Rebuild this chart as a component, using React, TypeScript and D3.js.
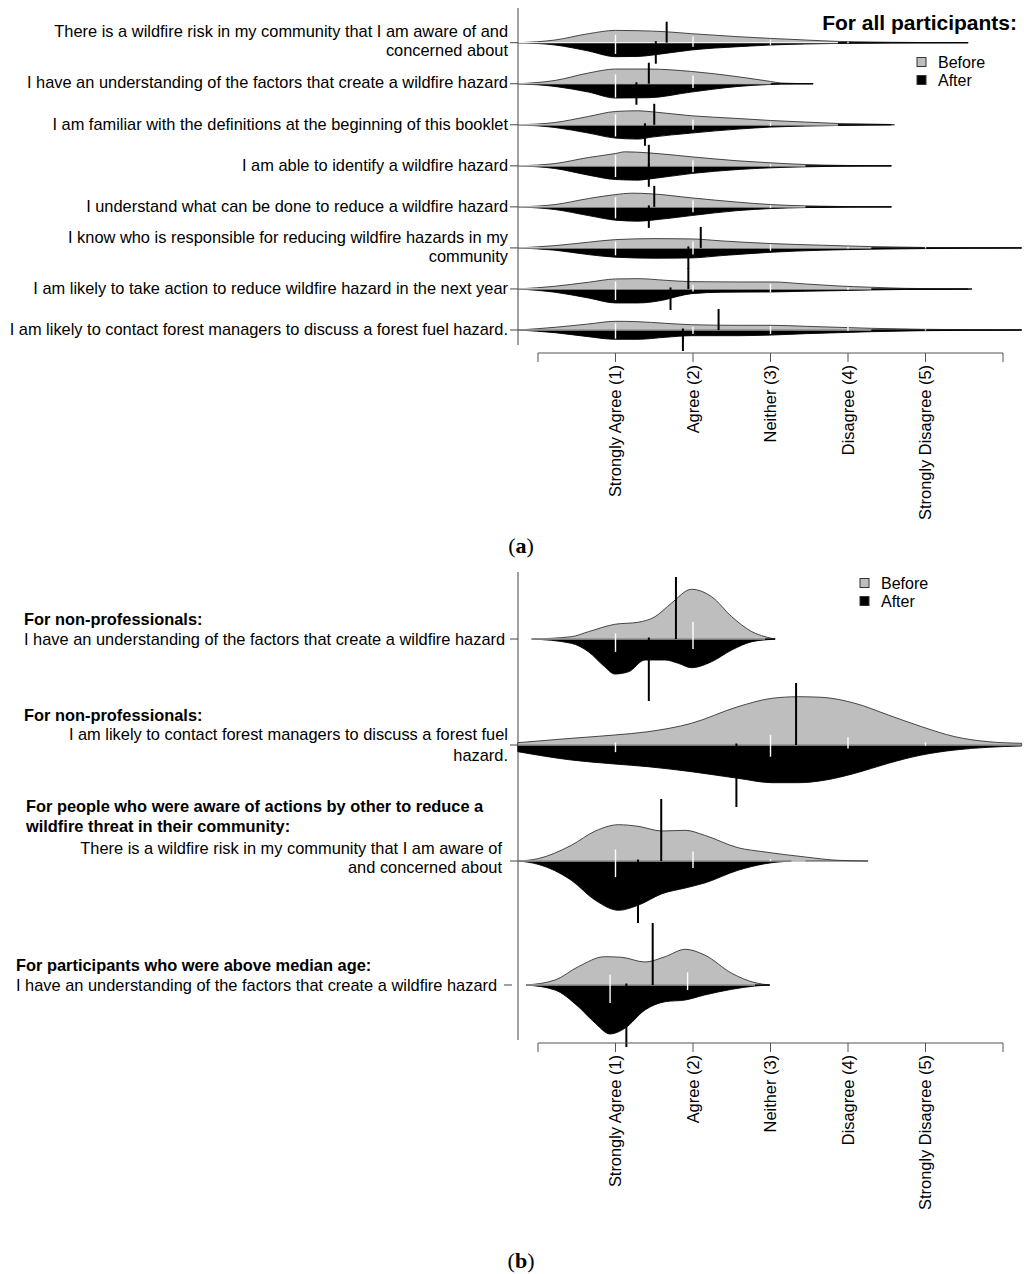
import React from "react";
import * as d3 from "d3";

type Pt = [number, number];

// ---------- Panel (a): all participants ----------
const A_LABELS: string[][] = [
  ["There is a wildfire risk in my community that I am aware of and", "concerned about"],
  ["I have an understanding of the factors that create a wildfire hazard"],
  ["I am familiar with the definitions at the beginning of this booklet"],
  ["I am able to identify a wildfire hazard"],
  ["I understand what can be done to reduce a wildfire hazard"],
  ["I know who is responsible for reducing wildfire hazards in my", "community"],
  ["I am likely to take action to reduce wildfire hazard in the next year"],
  ["I am likely to contact forest managers to discuss a forest fuel hazard."],
];

const A_BEFORE_DENSITY: Pt[][] = [
  [[-0.25,0],[0.22,2.7],[0.65,9],[1.0,12.3],[1.29,12],[1.64,11],[1.98,9],[2.58,6],[3.0,4.3],[3.45,2.7],[3.87,1.3],[4.3,0.7],[4.56,0.4],[5.55,0]],
  [[-0.25,0],[0.22,3.3],[0.65,10.7],[1.0,14.7],[1.43,14.7],[1.98,12.3],[2.58,7],[3.0,2.3],[3.14,0.7],[3.55,0]],
  [[-0.25,0],[0.22,2.3],[0.65,8.3],[1.0,13.3],[1.29,14],[1.47,13],[1.98,9],[2.58,6.3],[3.0,4.3],[3.45,2.7],[3.87,1.3],[4.56,0.3],[4.6,0]],
  [[-0.25,0],[0.22,2.3],[0.65,8.3],[1.0,12.3],[1.12,14],[1.42,13],[1.98,9],[2.58,5],[3.0,3],[3.45,1.3],[3.87,0.5],[4.56,0]],
  [[-0.25,0],[0.22,2.3],[0.65,8.3],[1.0,12.3],[1.21,13.7],[1.47,13],[1.98,9],[2.58,4.7],[3.0,2.3],[3.45,1],[3.87,0.4],[4.56,0]],
  [[-0.25,0],[0.22,2.3],[0.65,5.7],[1.0,8.3],[1.51,9.3],[1.98,9],[2.37,7],[3.02,4.3],[3.66,2.7],[4.3,1.3],[4.95,0.5],[5.55,0.2],[6.24,0]],
  [[-0.25,0],[0.22,2.7],[0.65,6.7],[1.0,10],[1.29,10.3],[1.64,8.7],[1.98,7.3],[2.58,7],[3.02,7],[3.45,5],[3.87,3],[4.3,1.7],[4.74,0.6],[5.55,0]],
  [[-0.25,0],[0.22,2.7],[0.65,6],[1.0,8.7],[1.29,8.3],[1.64,6.7],[1.98,5.3],[2.58,4.7],[3.02,4.7],[3.45,3.7],[3.87,2.7],[4.3,1.7],[4.95,0.7],[5.6,0.3],[6.24,0]],
];

const A_AFTER_DENSITY: Pt[][] = [
  [[-0.25,0],[0.22,2.3],[0.65,8.3],[1.0,14],[1.29,13.7],[1.64,10.7],[1.98,7.3],[2.58,4],[3.0,2.3],[3.45,1.3],[3.87,0.7],[4.56,0.3],[5.55,0]],
  [[-0.25,0],[0.22,2.7],[0.65,8.3],[1.0,14.3],[1.43,14],[1.98,8.3],[2.58,2.7],[3.0,0.7],[3.14,0.3],[3.55,0]],
  [[-0.25,0],[0.22,2.7],[0.65,8.3],[1.0,13.3],[1.29,14.3],[1.47,12.3],[1.98,8.3],[2.58,4.3],[3.0,2.3],[3.45,1.3],[3.87,0.7],[4.56,0]],
  [[-0.25,0],[0.22,2.7],[0.65,9.3],[1.0,13.7],[1.29,14.3],[1.42,13.3],[1.98,7.7],[2.58,3.7],[3.0,2],[3.45,1],[3.87,0.4],[4.56,0]],
  [[-0.25,0],[0.22,2.7],[0.65,8.7],[1.0,13.3],[1.29,14.3],[1.47,13.3],[1.98,8.7],[2.58,3.7],[3.0,1.7],[3.45,0.7],[3.87,0.3],[4.56,0]],
  [[-0.25,0],[0.22,2.3],[0.65,6.7],[1.0,9.3],[1.51,10.3],[1.98,10],[2.37,7.7],[3.02,4.3],[3.66,2.3],[4.3,1.3],[4.95,0.7],[5.55,0.3],[6.24,0]],
  [[-0.25,0],[0.22,3.3],[0.65,9],[1.0,14],[1.29,14],[1.64,10.7],[1.81,7.3],[1.98,4.7],[2.37,3.3],[3.02,3],[3.45,2.3],[3.87,1.7],[4.3,1],[4.74,0.5],[5.55,0.2],[5.6,0]],
  [[-0.25,0],[0.22,2.7],[0.65,6.7],[1.0,9.3],[1.29,9.3],[1.64,7.3],[1.98,5.7],[2.58,5.7],[3.02,5],[3.45,3.7],[3.87,2.7],[4.3,1.7],[4.95,0.7],[5.6,0.3],[6.24,0]],
];

const A_BEFORE_MEAN = [1.66, 1.43, 1.5, 1.43, 1.5, 2.1, 1.94, 2.33];
const A_AFTER_MEAN = [1.52, 1.27, 1.38, 1.43, 1.43, 1.94, 1.71, 1.87];

// share of answers at levels 1..5
const A_BEFORE_SHARE = [
  [0.44,0.34,0.17,0.05,0],
  [0.52,0.46,0.02,0,0],
  [0.58,0.29,0.13,0,0],
  [0.6,0.31,0.09,0,0],
  [0.54,0.37,0.09,0,0],
  [0.35,0.35,0.2,0.06,0.04],
  [0.41,0.23,0.28,0.08,0],
  [0.37,0.18,0.22,0.19,0.04],
];
const A_AFTER_SHARE = [
  [0.62,0.23,0.12,0.03,0],
  [0.77,0.23,0,0,0],
  [0.65,0.28,0.07,0,0],
  [0.62,0.35,0.03,0,0],
  [0.64,0.3,0.06,0,0],
  [0.41,0.37,0.16,0.03,0.03],
  [0.62,0.14,0.19,0.05,0],
  [0.48,0.22,0.22,0.05,0.03],
];

// ---------- Panel (b): sub-groups ----------
const B_TITLES: string[][] = [
  ["For non-professionals:"],
  ["For non-professionals:"],
  ["For people who were aware of actions by other to reduce a", "wildfire threat in their community:"],
  ["For participants who were above median age:"],
];
const B_LABELS: string[][] = [
  ["I have an understanding of the factors that create a wildfire hazard"],
  ["I am likely to contact forest managers to discuss a forest fuel", "hazard."],
  ["There is a wildfire risk in my community that I am aware of", "and concerned about"],
  ["I have an understanding of the factors that create a wildfire hazard"],
];

const B_BEFORE_DENSITY: Pt[][] = [
  [[-0.08,0],[0.43,2.3],[0.65,7.3],[0.99,14.7],[1.29,16.7],[1.51,22.3],[1.72,35.7],[1.98,49.7],[2.24,42.3],[2.5,22.3],[2.76,7.3],[2.93,2.3],[3.06,0]],
  [[-0.26,2.3],[0.43,6.7],[0.99,10],[1.42,13.3],[1.98,21.7],[2.58,38.3],[3.02,46.7],[3.36,48.3],[3.66,47.7],[4.09,41.7],[4.52,30],[4.95,18.3],[5.38,8.3],[5.81,3.3],[6.24,1.7]],
  [[-0.25,0],[0.0,2.3],[0.43,15.7],[0.74,30],[1.04,36.3],[1.29,34.7],[1.6,30],[1.9,30.7],[2.15,25.7],[2.58,13.3],[2.93,9],[3.45,4],[3.87,0.7],[4.26,0]],
  [[-0.15,0],[0.22,5],[0.52,18.3],[0.86,28.3],[1.08,27.7],[1.38,23],[1.64,28.3],[1.9,35.7],[2.15,30],[2.5,11.7],[2.8,2.3],[2.99,0]],
];
const B_AFTER_DENSITY: Pt[][] = [
  [[-0.08,0],[0.43,4.3],[0.65,12.7],[0.86,27.7],[0.99,35],[1.17,32.7],[1.38,21],[1.64,21],[1.81,24.3],[1.98,28.7],[2.24,22.7],[2.5,11],[2.76,2.7],[3.02,0.3],[3.06,0]],
  [[-0.26,6.7],[0.43,15],[0.99,19],[1.42,21.7],[1.98,26.7],[2.58,33.3],[3.02,37.7],[3.36,37.7],[3.66,35.7],[4.09,28.3],[4.52,18.3],[4.95,10],[5.38,5],[5.81,2.3],[6.24,1]],
  [[-0.25,0],[0.0,3.3],[0.43,19.3],[0.74,39.3],[1.04,49.3],[1.29,44.3],[1.6,32.7],[1.9,27],[2.15,22],[2.58,9.3],[2.93,2.7],[3.27,0]],
  [[-0.15,0],[0.22,5],[0.52,21.7],[0.74,38.3],[0.93,49],[1.12,43.3],[1.38,25],[1.64,16.7],[1.9,15],[2.15,10],[2.5,4.3],[2.8,1],[2.99,0]],
];
const B_BEFORE_MEAN = [1.78, 3.33, 1.59, 1.48];
const B_AFTER_MEAN = [1.43, 2.56, 1.29, 1.14];
const B_BEFORE_SHARE = [
  [0.25,0.75,0,0,0],
  [0.11,0,0.44,0.34,0.11],
  [0.5,0.41,0.09,0,0],
  [0.45,0.55,0,0,0],
];
const B_AFTER_SHARE = [
  [0.56,0.44,0,0,0],
  [0.31,0,0.51,0.15,0.03],
  [0.7,0.3,0,0,0],
  [0.78,0.22,0,0,0],
];
const B_SHIFT = [0, 0, 0, -0.07];

const LEVELS = [1, 2, 3, 4, 5];
const TICK_LABELS = ["Strongly Agree (1)", "Agree (2)", "Neither (3)", "Disagree (4)", "Strongly Disagree (5)"];
const LEGEND = ["Before", "After"];

const SANS = "'Liberation Sans', Arial, Helvetica, sans-serif";
const SERIF = "'Liberation Serif', 'Times New Roman', serif";
const GRAY = "#bebebe";
const FS = 16.4;

const x = d3.scaleLinear().domain([0, 6]).range([538, 1003]);

interface BeanProps {
  base: number;
  before: Pt[];
  after: Pt[];
  meanBefore: number;
  meanAfter: number;
  shareBefore: number[];
  shareAfter: number[];
  shift: number;
  dens: d3.ScaleLinear<number, number>;
  meanLen: number;
  lineLen: number;
}

function Bean(p: BeanProps) {
  const up = d3
    .area<Pt>()
    .x((d) => x(d[0]))
    .y0(p.base)
    .y1((d) => p.base - p.dens(d[1]))
    .curve(d3.curveMonotoneX);
  const down = d3
    .area<Pt>()
    .x((d) => x(d[0]))
    .y0(p.base)
    .y1((d) => p.base + p.dens(d[1]))
    .curve(d3.curveMonotoneX);
  const visible = p.before.filter((d) => p.dens(d[1]) >= 1.0);
  const wStart = p.before[0][0];
  const wEnd = visible.length ? visible[visible.length - 1][0] : wStart;
  return (
    <g>
      <path d={up(p.before) || ""} fill={GRAY} stroke="#333" strokeWidth={0.9} />
      <path d={down(p.after) || ""} fill="#000" stroke="#000" strokeWidth={0.9} />
      <line x1={x(wStart)} x2={x(wEnd)} y1={p.base} y2={p.base} stroke="#eee" strokeWidth={1.2} />
      {LEVELS.map((lv, i) => {
        const sb = p.shareBefore[i];
        const sa = p.shareAfter[i];
        if (sb <= 0 && sa <= 0) return null;
        return (
          <line
            key={lv}
            x1={x(lv + p.shift)}
            x2={x(lv + p.shift)}
            y1={p.base - sb * p.lineLen}
            y2={p.base + sa * p.lineLen}
            stroke="#fff"
            strokeWidth={1.4}
          />
        );
      })}
      <line x1={x(p.meanBefore)} x2={x(p.meanBefore)} y1={p.base - p.meanLen} y2={p.base} stroke="#000" strokeWidth={2} />
      <line x1={x(p.meanAfter)} x2={x(p.meanAfter)} y1={p.base - 1.5} y2={p.base + p.meanLen} stroke="#000" strokeWidth={2} />
    </g>
  );
}

function XAxis({ y }: { y: number }) {
  const ticks = x.ticks(6);
  return (
    <g>
      <line x1={x(0)} x2={x(6)} y1={y} y2={y} stroke="#555" strokeWidth={1} />
      {ticks.map((t) => (
        <line key={t} x1={x(t)} x2={x(t)} y1={y} y2={y + 9} stroke="#555" strokeWidth={1} />
      ))}
      {LEVELS.map((lv, i) => (
        <text
          key={lv}
          transform={`translate(${x(lv)},${y + 12}) rotate(-90)`}
          textAnchor="end"
          dy="0.35em"
          fontFamily={SANS}
          fontSize={FS}
          fill="#000"
        >
          {TICK_LABELS[i]}
        </text>
      ))}
    </g>
  );
}

function Legend({ x0, y0 }: { x0: number; y0: number }) {
  return (
    <g fontFamily={SANS} fontSize={16}>
      {LEGEND.map((lab, i) => (
        <g key={lab}>
          <rect
            x={x0}
            y={y0 + i * 18 - 4.5}
            width={9}
            height={9}
            fill={i === 0 ? GRAY : "#000"}
            stroke="#333"
            strokeWidth={1}
          />
          <text x={x0 + 21} y={y0 + i * 18} dy="0.35em" fill="#000">
            {lab}
          </text>
        </g>
      ))}
    </g>
  );
}

export default function App() {
  const W = 1024;
  const H = 1274;
  const AXIS_X = 518;

  // panel a
  const yA = d3.scalePoint<number>().domain(A_LABELS.map((_, i) => i)).range([42.7, 330]);
  const densA = d3.scaleLinear().domain([0, 15]).range([0, 15]);

  // panel b
  const groups = B_LABELS.map((_, i) => i);
  const yB = d3.scaleOrdinal<number, number>().domain(groups).range([639, 745, 861, 985]);
  const densB = d3.scaleLinear().domain([0, 50]).range([0, 50]);

  const bLayout = [
    { tx: 24, ty: [619], anchor: "start", lx: 24, ly: [639], tick: [AXIS_X - 8, AXIS_X] },
    { tx: 24, ty: [715], anchor: "end", lx: 508, ly: [734, 755], tick: [AXIS_X - 8, AXIS_X] },
    { tx: 26, ty: [806, 826], anchor: "end", lx: 502, ly: [848, 867], tick: [AXIS_X - 8, AXIS_X] },
    { tx: 16, ty: [965], anchor: "start", lx: 16, ly: [985], tick: [AXIS_X - 14, AXIS_X - 6] },
  ];

  return (
    <svg width={W} height={H} style={{ position: "absolute", left: 0, top: 0, background: "#fff" }}>
      <rect width={W} height={H} fill="#fff" />

      {/* ---------- panel a ---------- */}
      <line x1={AXIS_X} x2={AXIS_X} y1={8} y2={345} stroke="#444" strokeWidth={1} />
      {A_LABELS.map((lines, i) => {
        const base = yA(i) as number;
        const offs = lines.length === 2 ? [-11, 8] : [-1];
        return (
          <g key={i}>
            <line x1={AXIS_X - 8} x2={AXIS_X} y1={base} y2={base} stroke="#444" strokeWidth={1} />
            {lines.map((ln, j) => (
              <text
                key={j}
                x={508}
                y={base + offs[j]}
                dy="0.35em"
                textAnchor="end"
                fontFamily={SANS}
                fontSize={FS}
                fill="#000"
              >
                {ln}
              </text>
            ))}
          </g>
        );
      })}
      {A_LABELS.map((_, i) => (
        <Bean
          key={i}
          base={yA(i) as number}
          before={A_BEFORE_DENSITY[i]}
          after={A_AFTER_DENSITY[i]}
          meanBefore={A_BEFORE_MEAN[i]}
          meanAfter={A_AFTER_MEAN[i]}
          shareBefore={A_BEFORE_SHARE[i]}
          shareAfter={A_AFTER_SHARE[i]}
          shift={0}
          dens={densA}
          meanLen={21}
          lineLen={18}
        />
      ))}
      <XAxis y={353} />
      <text x={1017} y={23} dy="0.35em" textAnchor="end" fontFamily={SANS} fontSize={21} fontWeight="bold" fill="#000">
        For all participants:
      </text>
      <Legend x0={917} y0={62} />
      <text x={521} y={545} dy="0.35em" textAnchor="middle" fontFamily={SERIF} fontSize={22} fill="#000">
        (<tspan fontWeight="bold">a</tspan>)
      </text>

      {/* ---------- panel b ---------- */}
      <line x1={AXIS_X} x2={AXIS_X} y1={572} y2={1040} stroke="#444" strokeWidth={1} />
      {groups.map((g) => {
        const base = yB(g);
        const L = bLayout[g];
        return (
          <g key={g} fontFamily={SANS} fontSize={FS} fill="#000">
            <line x1={L.tick[0]} x2={L.tick[1]} y1={base} y2={base} stroke="#444" strokeWidth={1} />
            {B_TITLES[g].map((t, j) => (
              <text key={"t" + j} x={L.tx} y={L.ty[j]} dy="0.35em" fontWeight="bold">
                {t}
              </text>
            ))}
            {B_LABELS[g].map((t, j) => (
              <text key={"l" + j} x={L.lx} y={L.ly[j]} dy="0.35em" textAnchor={L.anchor as any}>
                {t}
              </text>
            ))}
          </g>
        );
      })}
      {groups.map((g) => (
        <Bean
          key={g}
          base={yB(g)}
          before={B_BEFORE_DENSITY[g]}
          after={B_AFTER_DENSITY[g]}
          meanBefore={B_BEFORE_MEAN[g]}
          meanAfter={B_AFTER_MEAN[g]}
          shareBefore={B_BEFORE_SHARE[g]}
          shareAfter={B_AFTER_SHARE[g]}
          shift={B_SHIFT[g]}
          dens={densB}
          meanLen={62}
          lineLen={23}
        />
      ))}
      <XAxis y={1043} />
      <Legend x0={860} y0={583} />
      <text x={521} y={1260} dy="0.35em" textAnchor="middle" fontFamily={SERIF} fontSize={22} fill="#000">
        (<tspan fontWeight="bold">b</tspan>)
      </text>
    </svg>
  );
}
